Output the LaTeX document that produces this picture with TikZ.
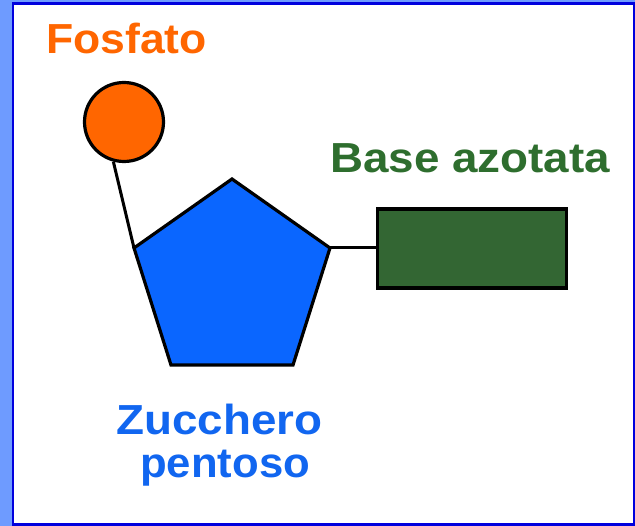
\documentclass[tikz,border=0pt]{standalone}
\usepackage{fontspec}
\setmainfont{Liberation Sans}
\definecolor{frameout}{HTML}{6E9BFF}
\definecolor{frameline}{HTML}{0000DD}
\definecolor{phosph}{HTML}{FF6600}
\definecolor{sugar}{HTML}{0A66FF}
\definecolor{sugartext}{HTML}{1166F0}
\definecolor{basefill}{HTML}{336633}
\definecolor{basetext}{HTML}{2E6E2E}
\tikzset{
  part/.style={draw=black, line width=3.2pt, line join=miter},
  bond/.style={draw=black, line width=3pt},
  label/.style={font=\fontsize{42}{42}\selectfont\bfseries, inner sep=0pt, anchor=base west}
}
\begin{document}
\begin{tikzpicture}[x=1pt, y=-1pt]
  % canvas and frame
  \useasboundingbox (0,0) rectangle (635,526);
  \fill[frameout] (0,0) rectangle (635,526);
  \filldraw[fill=white, draw=frameline, line width=2.5pt] (13,3.5) rectangle (634,524.5);

  % phosphate group
  \node[part, fill=phosph, circle, minimum size=79pt, inner sep=0pt] (phos) at (124,122) {};

  % pentose sugar ring
  \coordinate (pt) at (232,179);
  \coordinate (pl) at (134,248);
  \coordinate (pr) at (330,248);
  \coordinate (pbr) at (293,365);
  \coordinate (pbl) at (171,365);

  % bonds
  \draw[bond] (phos.255) -- (pl);
  \draw[bond] (pr) -- (375.5,248) coordinate (bl);

  \path[part, fill=sugar] (pt) -- (pr) -- (pbr) -- (pbl) -- (pl) -- cycle;

  % nitrogenous base
  \node[part, fill=basefill, rectangle, minimum width=189.5pt, minimum height=79pt, inner sep=0pt, anchor=north west] (base) at (375.5,207.5) {};

  % labels
  \node[label, text=phosph, xscale=1.06] (lphos) at (46,54) {Fosfato};
  \node[label, text=basetext, xscale=1.09] (lbase) at (330,173) {Base azotata};
  \node[label, text=sugartext, xscale=1.09] (lsug1) at (116,435) {Zucchero};
  \node[label, text=sugartext, xscale=1.04] (lsug2) at (140,478) {pentoso};
\end{tikzpicture}
\end{document}
